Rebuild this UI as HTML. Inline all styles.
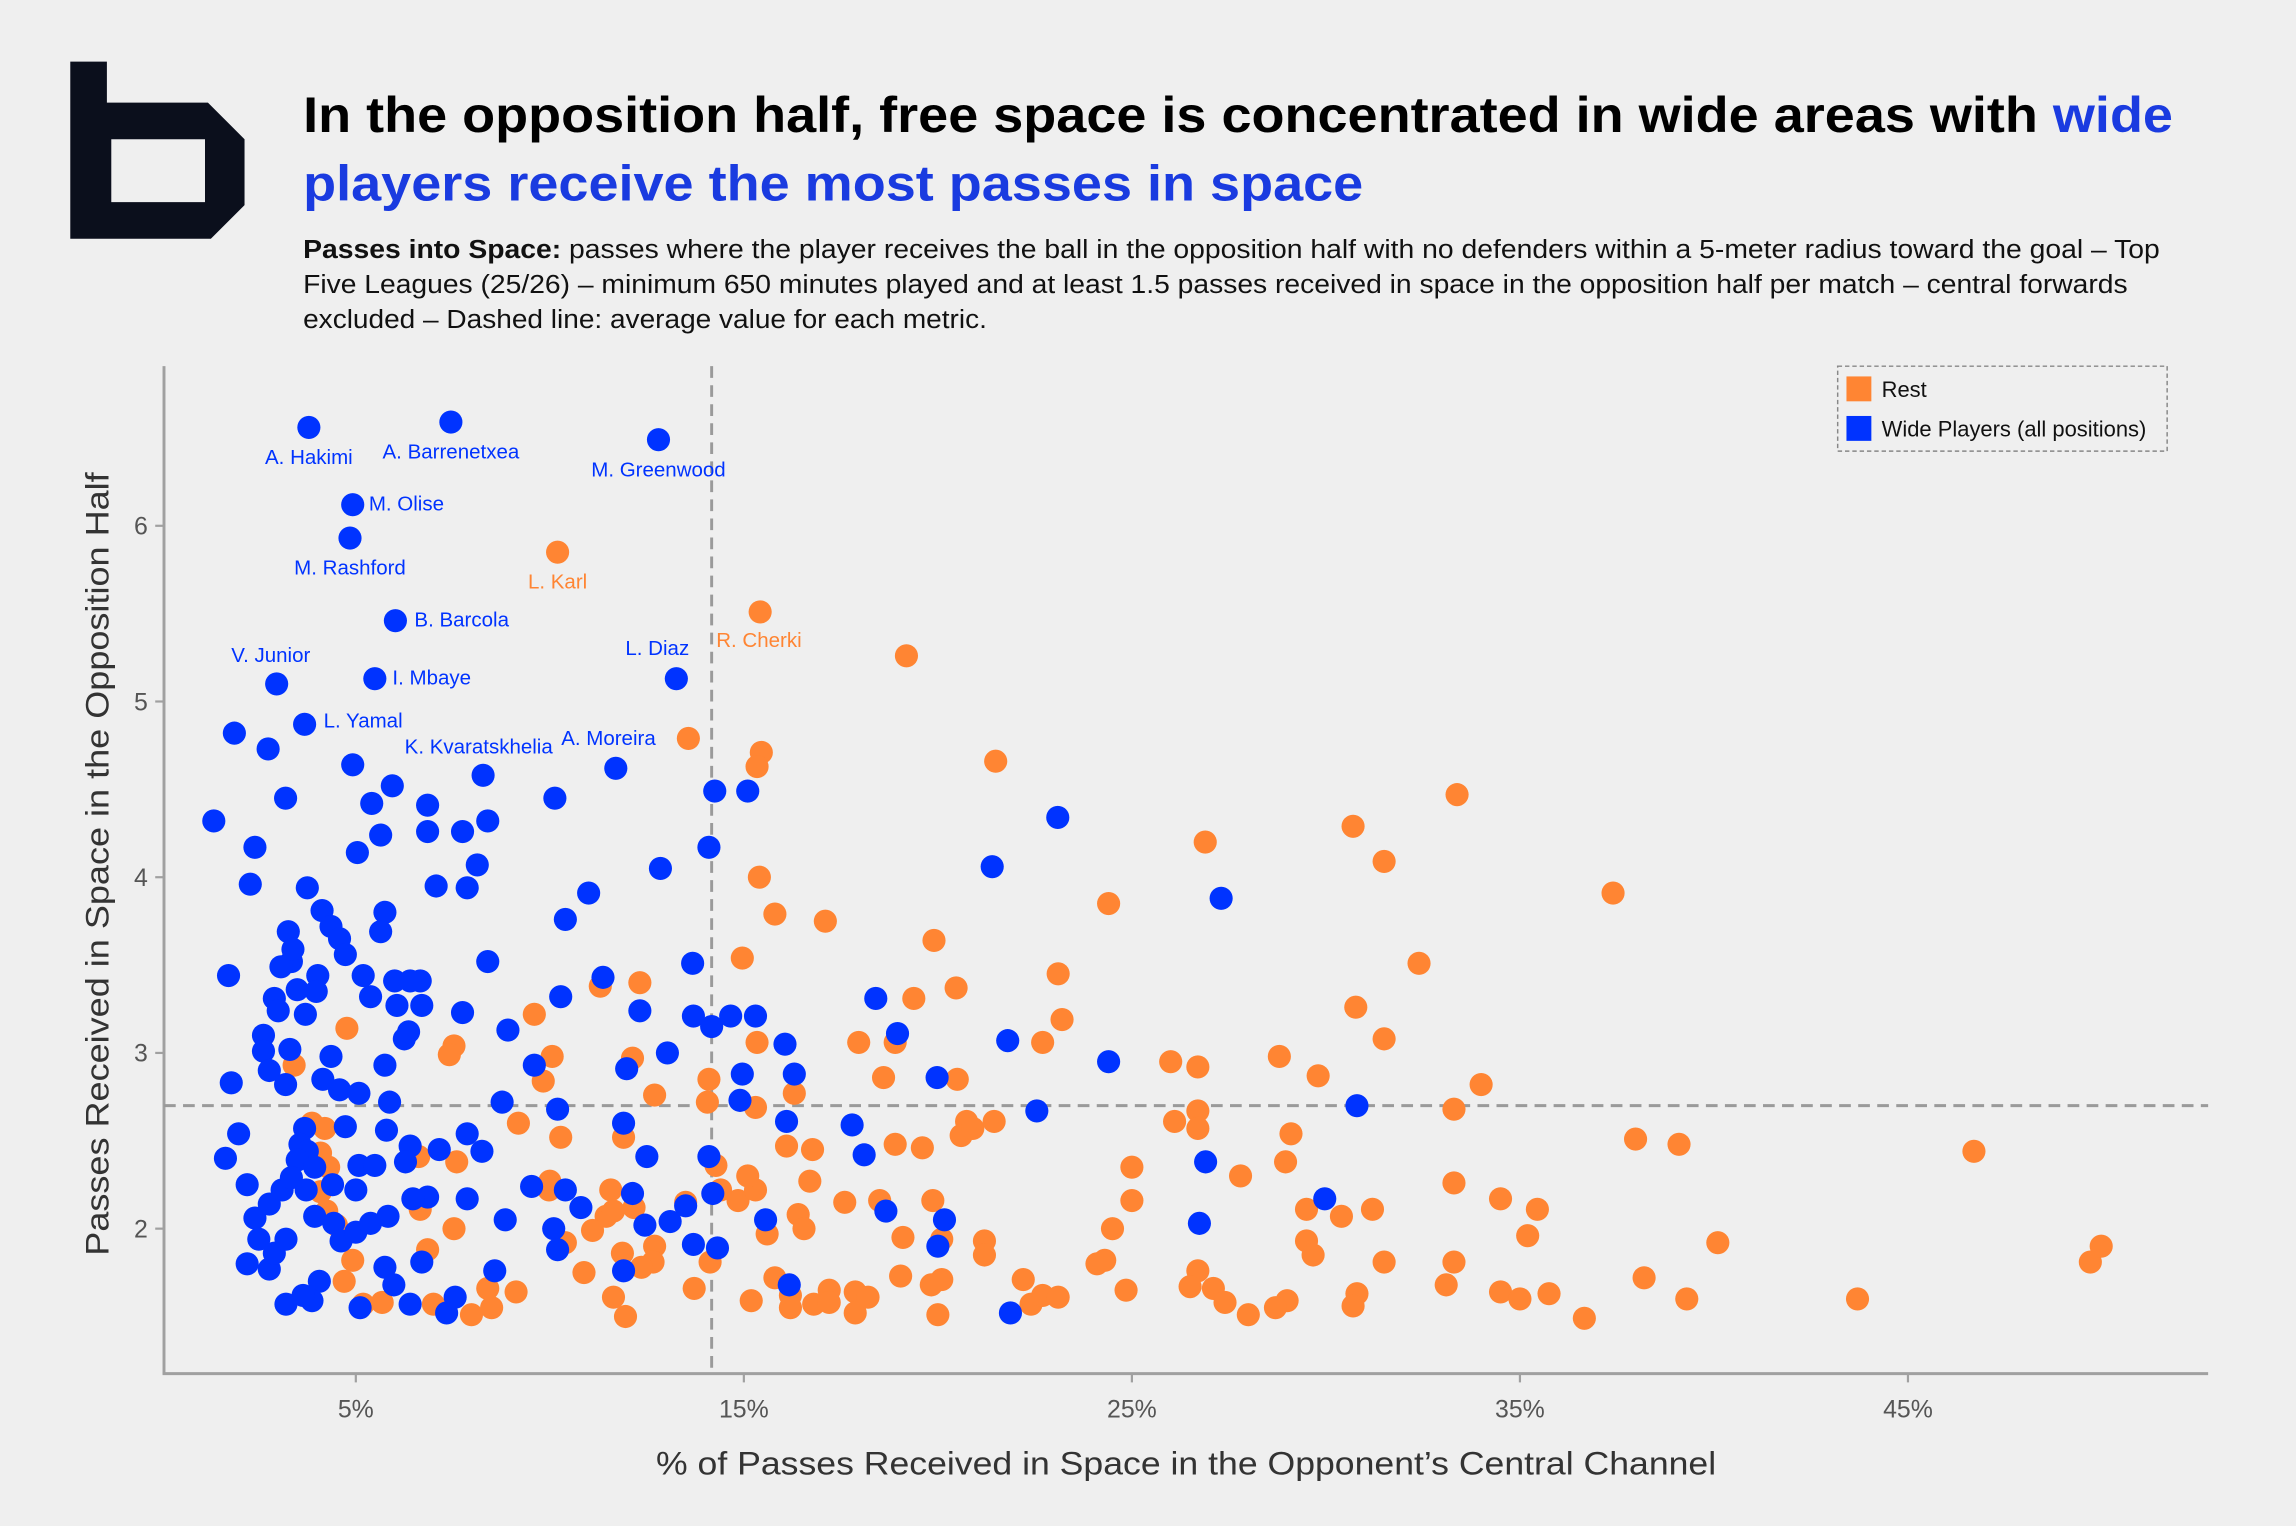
<!DOCTYPE html>
<html><head><meta charset="utf-8">
<style>
html,body{margin:0;padding:0;background:#efefef;}
svg{display:block;}
text{font-family:"Liberation Sans",sans-serif;}
</style></head>
<body>
<svg id="chart" width="2296" height="1526" viewBox="0 0 1568 1042" xmlns="http://www.w3.org/2000/svg">
<rect width="1568" height="1042" fill="#efefef"/>
<path fill="#0b0f1c" fill-rule="evenodd" d="M48,42 L73,42 L73,70 L142,70 L167,95 L167,140 L144,163 L48,163 Z M76,95 L140,95 L140,138 L76,138 Z"/>
<text x="207" y="90" font-size="34" font-weight="bold" fill="#000" textLength="1277" lengthAdjust="spacingAndGlyphs">In the opposition half, free space is concentrated in wide areas with <tspan fill="#1a3be0">wide</tspan></text>
<text x="207" y="137" font-size="34" font-weight="bold" fill="#1a3be0" textLength="724" lengthAdjust="spacingAndGlyphs">players receive the most passes in space</text>
<g font-size="17.5" fill="#111">
<text x="207" y="176" textLength="1268" lengthAdjust="spacingAndGlyphs"><tspan font-weight="bold">Passes into Space:</tspan> passes where the player receives the ball in the opposition half with no defenders within a 5-meter radius toward the goal – Top</text>
<text x="207" y="200" textLength="1246" lengthAdjust="spacingAndGlyphs">Five Leagues (25/26) – minimum 650 minutes played and at least 1.5 passes received in space in the opposition half per match – central forwards</text>
<text x="207" y="224" textLength="467" lengthAdjust="spacingAndGlyphs">excluded – Dashed line: average value for each metric.</text>
</g>
<g id="axes"></g>
<g id="marks"></g>
<g id="labels"></g>
<g>
<rect x="1255" y="250" width="225" height="58" fill="#efefef" stroke="#888" stroke-dasharray="3,2" stroke-width="1"/>
<rect x="1261" y="257" width="17" height="17" fill="#ff8533"/>
<text x="1285" y="271" font-size="15" fill="#111">Rest</text>
<rect x="1261" y="284" width="17" height="17" fill="#0033ff"/>
<text x="1285" y="298" font-size="15" fill="#111">Wide Players (all positions)</text>
</g>
</svg>
<script>
const xTicks=[5,15,25,35,45];
const xTickLabels=["5%","15%","25%","35%","45%"];
const yTicks=[2,3,4,5,6];
const yTickLabels=["2","3","4","5","6"];
const meanX=[14.17];
const meanY=[2.70];
const blueX=[3.79,7.45,12.8,4.92,4.85,6.02,2.96,5.49,3.68,8.28,11.7,13.26,
1.34,1.87,2.4,2.28,1.72,1.79,1.64,1.98,2.2,2.4,2.5,2.2,2.77,2.77,3.1,3.2,2.9,3.2,2.74,3.19,3.26,3.34,3.07,2.9,2.62,2.62,2.77,3.19,3.3,3.0,3.49,3.38,3.75,4.13,4.36,4.58,4.73,4.02,3.98,3.7,4.15,4.36,4.58,5.08,4.73,3.68,3.56,3.75,3.49,3.94,3.34,3.72,4.4,3.94,4.43,4.62,5.0,5.08,5.0,5.38,5.49,5.83,5.75,5.98,6.4,5.11,4.06,3.87,3.64,5.04,4.92,5.41,5.64,5.94,5.75,5.64,5.19,5.38,6.0,6.66,6.4,6.06,6.7,6.25,6.36,5.75,5.87,5.79,6.4,6.28,6.85,6.47,7.15,6.85,6.85,7.07,7.75,8.13,7.87,8.4,8.4,7.75,8.92,8.77,7.87,8.25,7.87,8.85,8.58,7.56,7.34,6.7,9.53,9.6,10.2,10.28,10.13,10.4,11.0,11.37,10.4,10.1,10.2,10.8,11.9,12.13,12.32,11.98,12.5,12.45,11.9,12.85,13.03,13.1,13.5,13.7,13.68,13.7,14.1,14.25,14.17,14.1,14.2,14.32,14.66,14.96,14.9,15.1,15.3,15.56,16.06,16.1,16.3,16.17,17.79,18.1,18.4,18.96,18.66,19.98,20.17,20.0,21.4,21.8,21.87,22.55,23.09,24.4,26.9,27.3,26.74,30.8,29.97];
const blueY=[6.56,6.59,6.49,6.12,5.93,5.46,5.10,5.13,4.87,4.58,4.62,5.13,
4.32,4.82,4.17,3.96,3.44,2.83,2.40,2.54,2.25,2.06,1.94,1.80,1.77,2.14,2.22,1.57,1.86,1.94,4.73,4.45,3.69,3.52,3.49,3.31,3.1,3.01,2.9,2.82,3.02,3.24,3.36,3.59,3.94,3.81,3.72,3.65,3.56,3.44,3.35,3.22,2.85,2.98,2.79,2.77,2.58,2.57,2.48,2.44,2.39,2.35,2.29,2.22,2.25,2.07,2.03,1.93,1.98,2.36,2.22,2.03,2.36,2.07,1.78,1.68,1.57,1.55,1.7,1.59,1.62,4.14,4.64,4.42,4.24,4.52,3.80,3.69,3.44,3.32,3.41,3.41,3.41,3.27,3.27,3.08,3.12,2.93,2.72,2.56,2.47,2.38,2.18,2.17,2.45,4.41,4.26,3.95,4.26,4.07,3.94,4.32,3.52,3.23,3.13,2.72,2.54,2.44,2.17,2.05,1.76,1.61,1.52,1.81,2.24,2.93,2.68,3.32,4.45,3.76,3.91,3.43,2.22,2.0,1.88,2.12,2.6,2.2,3.24,2.91,2.41,2.02,1.76,4.05,3.0,2.04,2.13,1.91,3.51,3.21,4.17,4.49,3.15,2.41,2.2,1.89,3.21,2.88,2.73,4.49,3.21,2.05,3.05,2.61,2.88,1.68,2.59,2.42,3.31,3.11,2.1,2.86,2.05,1.9,4.06,3.07,1.52,2.67,4.34,2.95,2.38,3.88,2.03,2.7,2.17];
const orangeX=[10.2,15.42,13.57,15.45,15.34,15.4,15.8,17.1,19.19,21.49,19.9,20.47,19.38,17.96,18.9,23.1,23.2,22.7,24.4,26.89,30.7,31.5,33.38,37.4,32.4,30.77,31.5,34.0,14.96,15.34,16.3,14.1,14.06,15.3,12.32,12.13,12.7,11.3,9.6,10.06,9.83,7.53,7.41,9.19,10.28,10.0,9.98,11.9,11.57,11.45,11.64,12.17,13.5,12.7,12.66,12.36,11.87,11.64,11.95,10.88,10.4,11.1,13.72,14.28,14.4,14.85,15.3,15.1,14.13,16.1,16.77,16.7,16.4,16.55,15.6,15.8,16.2,16.2,16.8,17.2,17.2,17.6,17.87,17.87,18.2,18.5,18.6,18.9,19.6,19.1,19.04,19.87,20.1,19.83,20.1,20.0,15.19,20.5,20.74,20.6,20.9,21.45,21.2,21.2,22.2,22.4,22.7,23.1,24.1,24.3,24.5,25.0,25.0,24.85,26.0,26.1,26.7,26.7,26.7,26.7,26.5,27.1,27.4,27.8,28.0,28.8,29.8,29.1,28.96,29.5,29.5,29.67,29.0,28.7,30.4,31.2,31.5,30.8,30.7,33.3,33.3,33.3,33.1,34.5,35.45,35.2,34.5,35.0,35.75,36.66,37.98,39.1,38.2,39.3,40.1,43.7,46.7,49.7,49.98,3.41,4.77,3.87,4.2,4.09,4.3,4.09,4.25,4.5,4.92,4.7,5.19,5.68,6.62,6.66,6.85,7.0,7.6,7.53,7.98,8.5,8.4,9.13];
const orangeY=[5.85,5.51,4.79,4.71,4.63,4.0,3.79,3.75,5.26,4.66,3.64,3.37,3.31,3.06,3.06,3.45,3.19,3.06,3.85,4.2,4.29,4.09,4.47,3.91,3.51,3.26,3.08,2.82,3.54,3.06,2.77,2.85,2.72,2.69,3.40,2.97,2.76,3.38,3.22,2.98,2.84,3.04,2.99,2.6,2.52,2.27,2.22,2.52,2.22,2.07,2.1,2.12,2.15,1.9,1.81,1.78,1.86,1.61,1.5,1.75,1.92,1.99,1.66,2.36,2.22,2.16,2.22,2.3,1.81,2.47,2.45,2.27,2.08,2.0,1.97,1.72,1.62,1.55,1.57,1.65,1.58,2.15,1.64,1.52,1.61,2.16,2.86,2.48,2.46,1.95,1.73,2.16,1.94,1.68,1.71,1.51,1.59,2.85,2.61,2.53,2.57,2.61,1.93,1.85,1.71,1.57,1.62,1.61,1.8,1.82,2.0,2.35,2.16,1.65,2.95,2.61,2.92,2.67,2.57,1.76,1.67,1.66,1.58,2.3,1.51,2.98,2.87,2.54,2.38,2.11,1.93,1.85,1.59,1.55,2.07,2.11,1.81,1.63,1.56,2.68,2.26,1.81,1.68,2.17,2.11,1.96,1.64,1.6,1.63,1.49,2.51,2.48,1.72,1.6,1.92,1.6,2.44,1.81,1.9,2.93,3.14,2.6,2.57,2.43,2.35,2.21,2.1,2.02,1.82,1.7,1.57,1.58,2.41,2.11,1.88,1.57,2.38,2.0,1.51,1.55,1.66,1.64];
const blueLabels=["A. Hakimi","A. Barrenetxea","M. Greenwood","M. Olise","M. Rashford","B. Barcola","V. Junior","I. Mbaye","L. Yamal","K. Kvaratskhelia","A. Moreira","L. Diaz"];
const orangeLabels=["L. Karl","R. Cherki"];
// label placement: [dx, dy, anchor]
const blueLabelPos=[[0,25,"middle"],[0,25,"middle"],[0,25,"middle"],[11,4,"start"],[0,25,"middle"],[13,4,"start"],[-4,-15,"middle"],[12,4,"start"],[13,2,"start"],[-3,-15,"middle"],[-5,-16,"middle"],[-13,-16,"middle"]];
const orangeLabelPos=[[0,25,"middle"],[-30,24,"start"]];

const X0=110.5,XS=26.5,Y0=359,YS=120;
const sx=v=>X0+v*XS;
const sy=v=>Y0-(v-6)*YS;
const NS="http://www.w3.org/2000/svg";
function mk(tag,attrs,parent){const e=document.createElementNS(NS,tag);for(const k in attrs)e.setAttribute(k,attrs[k]);parent.appendChild(e);return e;}
const axes=document.getElementById('axes'),marks=document.getElementById('marks'),labels=document.getElementById('labels');

let l=mk('line',{x1:112,y1:250,x2:112,y2:938,stroke:'#a0a0a0','stroke-width':2},axes);


l=mk('line',{x1:111,y1:938,x2:1508,y2:938,stroke:'#a0a0a0','stroke-width':2},axes);


xTicks.forEach((v,i)=>{
  const t=mk('line',{x1:sx(v),y1:938,x2:sx(v),y2:944,stroke:'#a0a0a0','stroke-width':1.5},axes);
  
  
  const tx=mk('text',{x:sx(v),y:968,'font-size':17,fill:'#555','text-anchor':'middle'},axes);
  tx.textContent=xTickLabels[i];
  
  
});
yTicks.forEach((v,i)=>{
  const t=mk('line',{x1:106,y1:sy(v),x2:112,y2:sy(v),stroke:'#a0a0a0','stroke-width':1.5},axes);
  
  
  const tx=mk('text',{x:101,y:sy(v)+6,'font-size':17,fill:'#555','text-anchor':'end'},axes);
  tx.textContent=yTickLabels[i];
  
  
});
let at=mk('text',{x:810,y:1007,'font-size':22,fill:'#333','text-anchor':'middle',textLength:724,lengthAdjust:'spacingAndGlyphs'},axes);
at.textContent="% of Passes Received in Space in the Opponent’s Central Channel";


at=mk('text',{x:0,y:0,'font-size':22,fill:'#333','text-anchor':'middle',textLength:535,lengthAdjust:'spacingAndGlyphs',transform:'translate(74,590) rotate(-90)'},axes);
at.textContent="Passes Received in Space in the Opposition Half";



let ml=mk('line',{x1:sx(meanX[0]),y1:250,x2:sx(meanX[0]),y2:938,stroke:'#9a9a9a','stroke-width':2,'stroke-dasharray':'8,5'},axes);


ml=mk('line',{x1:112,y1:sy(meanY[0]),x2:1508,y2:sy(meanY[0]),stroke:'#9a9a9a','stroke-width':2,'stroke-dasharray':'8,5'},axes);



orangeX.forEach((v,i)=>{
  const c=mk('circle',{cx:sx(v),cy:sy(orangeY[i]),r:7.9,fill:'#ff8533'},marks);
  
  
});
blueX.forEach((v,i)=>{
  const c=mk('circle',{cx:sx(v),cy:sy(blueY[i]),r:7.9,fill:'#0033ff'},marks);
  
  
});
blueLabels.forEach((n,i)=>{
  const p=blueLabelPos[i];
  const t=mk('text',{x:sx(blueX[i])+p[0],y:sy(blueY[i])+p[1],'font-size':14,fill:'#0033ff','text-anchor':p[2]},labels);
  t.textContent=n;
  
  
});
orangeLabels.forEach((n,i)=>{
  const p=orangeLabelPos[i];
  const t=mk('text',{x:sx(orangeX[i])+p[0],y:sy(orangeY[i])+p[1],'font-size':14,fill:'#ff8533','text-anchor':p[2]},labels);
  t.textContent=n;
  
  
});
</script>
</body></html>
